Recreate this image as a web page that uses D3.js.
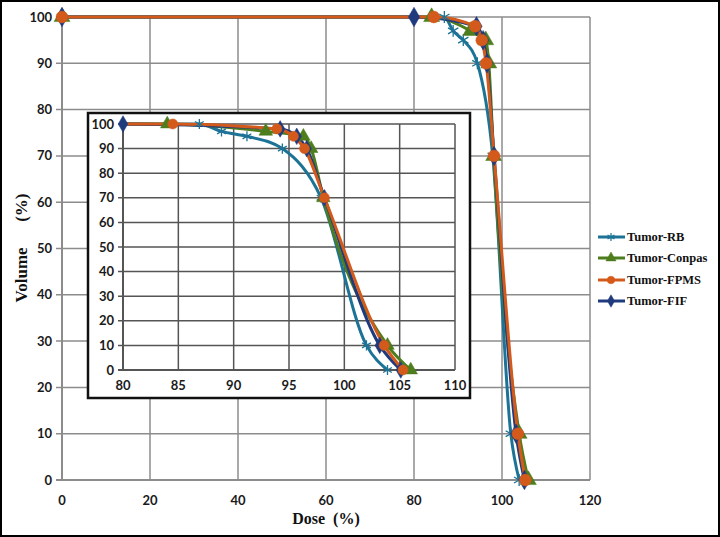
<!DOCTYPE html>
<html>
<head>
<meta charset="utf-8">
<script src="https://cdn.jsdelivr.net/npm/d3@7"></script>
<style>
  body { margin: 0; background: #fff; }
  svg { display: block; }
  .tick-label { font-family: Lato, "Open Sans", sans-serif; font-weight: 700; font-size: 13px; fill: #1a1a1a; }
  .axis-title { font-family: "Liberation Serif", serif; font-weight: 700; font-size: 16px; fill: #111; }
  .legend-text { font-family: "Liberation Serif", serif; font-weight: 700; font-size: 12.5px; fill: #111; }
</style>
</head>
<body>
<svg width="720" height="537"></svg>
<script>
// series data: dose (%) vs volume (%)
const seriesNames = ["Tumor-RB", "Tumor-Conpas", "Tumor-FPMS", "Tumor-FIF"];
const rbDose = [0, 86.9, 88.9, 91.2, 94.4, 97.9, 102.0, 103.9];
const rbVol = [100, 100, 97, 95, 90, 70, 10, 0];
const conpasDose = [0, 84, 92.9, 96.3, 97.0, 98.1, 103.9, 106.0];
const conpasVol = [100, 100, 97, 95, 90, 70, 10, 0];
const fpmsDose = [0, 84.5, 93.9, 95.4, 96.4, 98.2, 103.6, 105.3];
const fpmsVol = [100, 100, 98, 95, 90, 70, 10, 0];
const fifDose = [0, 80, 94.2, 95.7, 96.6, 98.2, 103.2, 105.1];
const fifVol = [100, 100, 98, 95, 90, 70, 10, 0];

const mainXTicks = [0, 20, 40, 60, 80, 100, 120];
const mainYTicks = [0, 10, 20, 30, 40, 50, 60, 70, 80, 90, 100];
const insetXTicks = [80, 85, 90, 95, 100, 105, 110];
const insetYTicks = [0, 10, 20, 30, 40, 50, 60, 70, 80, 90, 100];

const colors = ["#1d7396", "#4e7d1e", "#d45a1c", "#1f3a7d"];
const symbols = [d3.symbolAsterisk, d3.symbolTriangle, d3.symbolCircle, d3.symbolDiamond];

const series = [
  { name: seriesNames[0], dose: rbDose, vol: rbVol },
  { name: seriesNames[1], dose: conpasDose, vol: conpasVol },
  { name: seriesNames[2], dose: fpmsDose, vol: fpmsVol },
  { name: seriesNames[3], dose: fifDose, vol: fifVol }
].map((s, i) => ({ ...s, color: colors[i], symbol: symbols[i],
  pts: s.dose.map((d, j) => [d, s.vol[j]]) }));

// FPMS is painted on top of the others
const drawOrder = [0, 1, 3, 2];

const svg = d3.select("svg");

svg.append("rect")
  .attr("x", 1).attr("y", 1).attr("width", 718).attr("height", 535)
  .attr("fill", "#fff").attr("stroke", "#000").attr("stroke-width", 2);

function drawChart(g, x, y, xTicks, yTicks, opts) {
  // gridlines
  g.selectAll(null).data(xTicks.slice(1)).join("line")
    .attr("x1", d => x(d)).attr("x2", d => x(d))
    .attr("y1", y.range()[0]).attr("y2", y.range()[1])
    .attr("stroke", opts.grid).attr("stroke-width", opts.gridW);
  g.selectAll(null).data(yTicks.slice(1)).join("line")
    .attr("x1", x.range()[0] - opts.tick).attr("x2", x.range()[1])
    .attr("y1", d => y(d)).attr("y2", d => y(d))
    .attr("stroke", opts.grid).attr("stroke-width", opts.gridW);
  // axis lines
  g.append("line")
    .attr("x1", x.range()[0]).attr("x2", x.range()[0])
    .attr("y1", y.range()[0]).attr("y2", y.range()[1])
    .attr("stroke", opts.grid).attr("stroke-width", opts.gridW + 0.5);
  g.append("line")
    .attr("x1", x.range()[0] - opts.tick).attr("x2", x.range()[1])
    .attr("y1", y(0)).attr("y2", y(0))
    .attr("stroke", opts.grid).attr("stroke-width", opts.gridW + 0.5);

  g.selectAll(null).data(xTicks).join("text")
    .attr("class", "tick-label")
    .attr("x", d => x(d)).attr("y", y(0) + opts.xLabelDy)
    .attr("text-anchor", "middle")
    .text(d => d);
  g.selectAll(null).data(yTicks).join("text")
    .attr("class", "tick-label")
    .attr("x", x.range()[0] - opts.yLabelDx).attr("y", d => y(d))
    .attr("dy", "0.35em")
    .attr("text-anchor", "end")
    .text(d => d);

  // keep the lines inside the plot area (inset starts at 80)
  g.append("clipPath").attr("id", opts.id)
    .append("rect")
    .attr("x", x.range()[0]).attr("y", y.range()[1] - 10)
    .attr("width", x.range()[1] - x.range()[0] + 10)
    .attr("height", y.range()[0] - y.range()[1] + 20);

  const line = d3.line()
    .x(d => x(d[0])).y(d => y(d[1]))
    .curve(d3.curveMonotoneX);

  const lines = g.append("g").attr("clip-path", `url(#${opts.id})`);
  for (const i of drawOrder) {
    const s = series[i];
    lines.append("path")
      .attr("d", line(s.pts))
      .attr("fill", "none")
      .attr("stroke", s.color)
      .attr("stroke-width", opts.lineW);
  }
  for (const i of drawOrder) {
    const s = series[i];
    const pts = s.pts.filter(p => p[0] >= x.domain()[0]);
    const isStroke = s.symbol === d3.symbolAsterisk;
    g.selectAll(null).data(pts).join("path")
      .attr("transform", d => `translate(${x(d[0])},${y(d[1])})`)
      .attr("d", d3.symbol(s.symbol, isStroke ? opts.mark * 0.9 : opts.mark))
      .attr("fill", isStroke ? "none" : s.color)
      .attr("stroke", s.color)
      .attr("stroke-width", isStroke ? 1.3 : 0.5);
  }
}

// main chart
const xMain = d3.scaleLinear().domain([0, 120]).range([62, 590]);
const yMain = d3.scaleLinear().domain([0, 100]).range([480, 17]);
drawChart(svg.append("g"), xMain, yMain, mainXTicks, mainYTicks,
  { id: "clip-main", grid: "#8c8c8c", gridW: 1.5, tick: 6, xLabelDy: 25, yLabelDx: 10, lineW: 3, mark: 110 });

svg.append("text")
  .attr("class", "axis-title")
  .attr("x", 326).attr("y", 524)
  .attr("text-anchor", "middle")
  .attr("xml:space", "preserve")
  .text("Dose  (%)");
svg.append("text")
  .attr("class", "axis-title")
  .attr("transform", "translate(27,248) rotate(-90)")
  .attr("text-anchor", "middle")
  .attr("xml:space", "preserve")
  .style("font-size", "17px")
  .text("Volume      (%)");

// inset chart
svg.append("rect")
  .attr("x", 88).attr("y", 113).attr("width", 382).attr("height", 285)
  .attr("fill", "#fff").attr("stroke", "#111").attr("stroke-width", 2.5);
const xIn = d3.scaleLinear().domain([80, 110]).range([123, 455]);
const yIn = d3.scaleLinear().domain([0, 100]).range([370, 124]);
drawChart(svg.append("g"), xIn, yIn, insetXTicks, insetYTicks,
  { id: "clip-inset", grid: "#555", gridW: 1.5, tick: 5, xLabelDy: 20, yLabelDx: 9, lineW: 3, mark: 80 });

// legend
const legend = svg.append("g");
const legendY = [237, 258, 280, 301];
series.forEach((s, i) => {
  const gy = legendY[i];
  legend.append("line")
    .attr("x1", 598).attr("x2", 625).attr("y1", gy).attr("y2", gy)
    .attr("stroke", s.color).attr("stroke-width", 3);
  const isStroke = s.symbol === d3.symbolAsterisk;
  legend.append("path")
    .attr("transform", `translate(611,${gy})`)
    .attr("d", d3.symbol(s.symbol, 45))
    .attr("fill", isStroke ? "none" : s.color)
    .attr("stroke", s.color)
    .attr("stroke-width", isStroke ? 1.2 : 0.5);
  legend.append("text")
    .attr("class", "legend-text")
    .attr("x", 627).attr("y", gy).attr("dy", "0.35em")
    .text(s.name);
});
</script>
</body>
</html>
